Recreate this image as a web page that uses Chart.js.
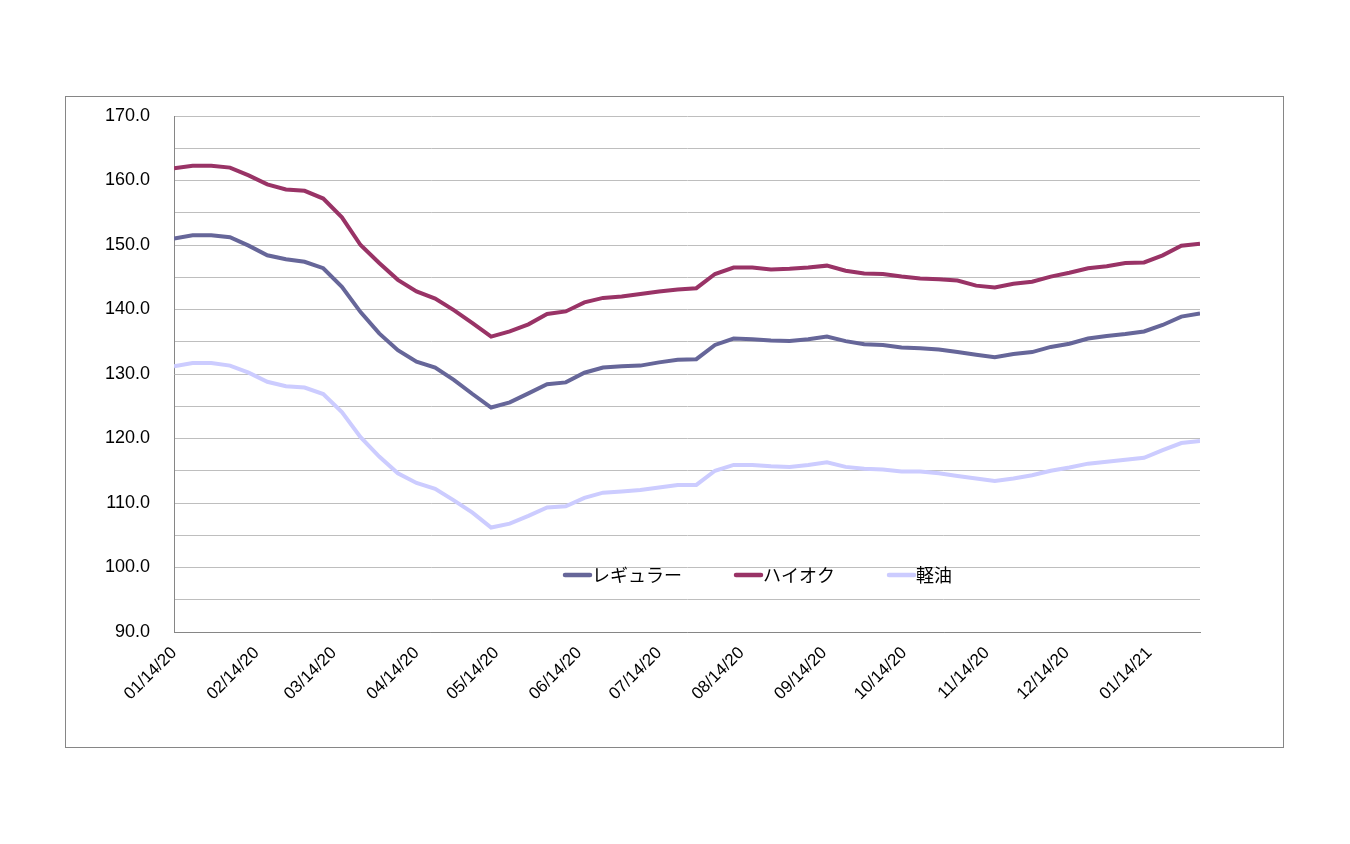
<!DOCTYPE html>
<html><head><meta charset="utf-8">
<script src="https://cdn.jsdelivr.net/npm/chart.js@4/dist/chart.umd.min.js"></script>
<style>html,body{margin:0;padding:0;background:#fff;} canvas{display:block;}</style>
</head><body>
<canvas id="c" width="1350" height="844"></canvas>
<script>
// weekly survey points, starting 2020-01-14, 7 days apart
const regular = [151.0,151.5,151.5,151.2,149.9,148.4,147.8,147.4,146.4,143.5,139.6,
  136.3,133.7,131.9,131.0,129.1,126.9,124.8,125.6,127.0,128.4,128.7,130.2,
  131.0,131.2,131.3,131.8,132.2,132.3,134.5,135.5,135.4,135.2,135.1,
  135.4,135.8,135.1,134.6,134.5,134.1,134.0,133.8,133.4,133.0,132.6,
  133.1,133.4,134.2,134.7,135.5,135.9,136.2,136.6,137.6,138.9,139.4];
const highOctane = [161.9,162.3,162.3,162.0,160.8,159.4,158.6,158.4,157.2,154.3,150.0,
  147.2,144.6,142.8,141.7,139.9,137.9,135.8,136.6,137.7,139.3,139.7,141.1,
  141.8,142.0,142.4,142.8,143.1,143.3,145.5,146.5,146.5,146.2,146.3,
  146.5,146.8,146.0,145.6,145.5,145.1,144.8,144.7,144.5,143.7,143.4,
  144.0,144.3,145.1,145.7,146.4,146.7,147.2,147.3,148.4,149.9,150.2];
const diesel = [131.2,131.7,131.7,131.3,130.2,128.8,128.1,127.9,126.9,124.1,120.2,
  117.2,114.6,113.1,112.2,110.4,108.5,106.2,106.8,108.0,109.3,109.5,110.8,
  111.6,111.8,112.0,112.4,112.8,112.8,115.0,115.9,115.9,115.7,115.6,
  115.9,116.3,115.6,115.3,115.2,114.9,114.9,114.6,114.2,113.8,113.4,
  113.8,114.3,115.0,115.5,116.1,116.4,116.7,117.0,118.2,119.3,119.6];
const seriesNames = ['レギュラー','ハイオク','軽油'];
const seriesColors = ['#666699','#993366','#CCCCFF'];
// month ticks: days after 2020-01-14
const tickDays = [0,31,60,91,121,152,182,213,244,274,305,335,366];
const tickLabels = ['01/14/20','02/14/20','03/14/20','04/14/20','05/14/20','06/14/20',
  '07/14/20','08/14/20','09/14/20','10/14/20','11/14/20','12/14/20','01/14/21'];
const yMin = 90, yMax = 170, yStep = 5;

const dayOffsets = regular.map((_, i) => i * 7);
const toPts = arr => arr.map((v, i) => ({x: dayOffsets[i], y: v}));
const allSeries = [regular, highOctane, diesel];

const framePlugin = {
  id: 'frame',
  beforeDraw(chart) {
    const ctx = chart.ctx;
    ctx.save();
    ctx.fillStyle = '#fff';
    ctx.fillRect(0, 0, chart.width, chart.height);
    ctx.strokeStyle = '#868686';
    ctx.lineWidth = 1;
    ctx.strokeRect(65.5, 96.5, 1218, 651);
    ctx.restore();
  }
};
const legendPlugin = {
  id: 'inLegend',
  afterDraw(chart) {
    const ctx = chart.ctx;
    ctx.save();
    ctx.font = '18px "Noto Sans CJK JP"';
    ctx.textBaseline = 'middle';
    let x = 563;
    const y = 575;
    chart.data.datasets.forEach(ds => {
      ctx.strokeStyle = ds.borderColor;
      ctx.lineWidth = 4.5;
      ctx.lineCap = 'round';
      ctx.beginPath(); ctx.moveTo(x + 2, y); ctx.lineTo(x + 27, y); ctx.stroke();
      ctx.fillStyle = '#000';
      ctx.fillText(ds.label, x + 29, y);
      x += 29 + ctx.measureText(ds.label).width + 52;
    });
    ctx.restore();
  }
};

Chart.defaults.font.family = '"Liberation Sans", Arial, sans-serif';
Chart.defaults.color = '#000';

new Chart(document.getElementById('c'), {
  type: 'line',
  data: {
    datasets: allSeries.map((arr, k) => ({
      label: seriesNames[k],
      data: toPts(arr),
      borderColor: seriesColors[k],
      backgroundColor: seriesColors[k],
      borderWidth: 4,
      pointRadius: 0,
      tension: 0,
      fill: false
    }))
  },
  options: {
    responsive: false,
    animation: false,
    layout: {padding: {left: 74, top: 116, right: 150, bottom: 112}},
    plugins: {legend: {display: false}, tooltip: {enabled: false}},
    scales: {
      x: {
        type: 'linear',
        min: 0,
        max: dayOffsets[dayOffsets.length - 1],
        afterFit(s) { s.height = 100; },
        afterBuildTicks(s) { s.ticks = tickDays.map(v => ({value: v})); },
        grid: {display: false, drawTicks: false},
        border: {display: true, color: '#868686', width: 1},
        ticks: {
          autoSkip: false,
          minRotation: 45, maxRotation: 45,
          padding: 11,
          font: {size: 17},
          callback: (v, i) => tickLabels[i]
        }
      },
      y: {
        min: yMin, max: yMax,
        afterFit(s) { s.width = 100; },
        grid: {color: '#BEBEBE', lineWidth: 1, drawTicks: false},
        border: {display: true, color: '#868686', width: 1},
        ticks: {
          stepSize: yStep,
          padding: 24,
          font: {size: 18},
          callback: v => (v % 10 === 0 ? Number(v).toFixed(1) : '')
        }
      }
    }
  },
  plugins: [framePlugin, legendPlugin]
});
</script>
</body></html>
